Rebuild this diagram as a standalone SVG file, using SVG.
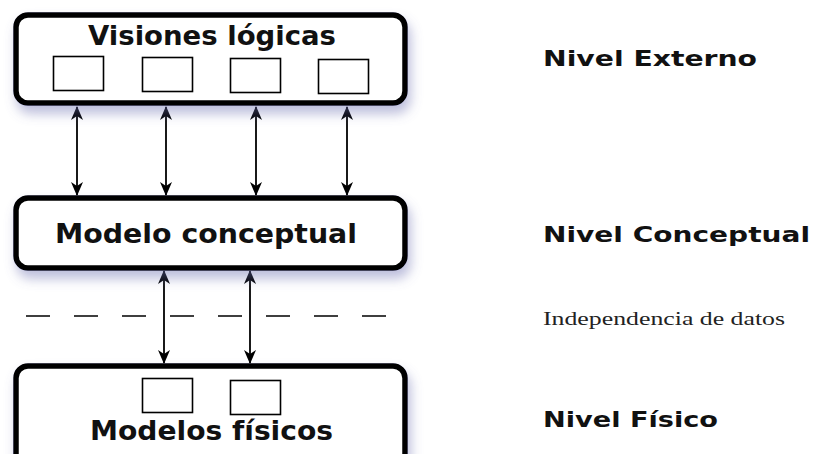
<svg xmlns="http://www.w3.org/2000/svg" width="813" height="454" viewBox="0 0 813 454">
<defs>
<style>
.box{fill:#fff;stroke:#000;stroke-width:5.5}
.inner{fill:#fff;stroke:#000;stroke-width:1.6}
.title{font-family:"DejaVu Sans","Open Sans",sans-serif;font-weight:bold;fill:#111}
.lvl{font-family:"DejaVu Sans","Open Sans",sans-serif;font-weight:bold;font-size:22px;fill:#111}
.ser{font-family:"Liberation Serif","DejaVu Serif",serif;font-size:19px;fill:#222}
.arr{stroke:#000;stroke-width:1.8;fill:none;marker-start:url(#ah);marker-end:url(#ah)}
</style>
<marker id="ah" viewBox="0 0 14 12" refX="13" refY="6" markerWidth="14" markerHeight="12" markerUnits="userSpaceOnUse" orient="auto-start-reverse">
<path d="M0,0 L14,6 L0,12 L4,6 Z" fill="#000"/>
</marker>
<filter id="sh" x="-10%" y="-20%" width="125%" height="160%">
<feDropShadow dx="3" dy="8" stdDeviation="6" flood-color="#6b6fb0" flood-opacity="0.45"/>
</filter>
</defs>
<g id="connectors">
<line class="arr" x1="77" y1="107" x2="77" y2="195"/>
<line class="arr" x1="166" y1="107" x2="166" y2="195"/>
<line class="arr" x1="256" y1="107" x2="256" y2="195"/>
<line class="arr" x1="347" y1="107" x2="347" y2="195"/>
<line class="arr" x1="164" y1="271" x2="164" y2="363"/>
<line class="arr" x1="250" y1="271" x2="250" y2="363"/>
<line x1="26" y1="316" x2="388" y2="316" stroke="#000" stroke-width="1.6" stroke-dasharray="24 24"/>
</g>
<g id="visiones">
<rect class="box" x="16" y="15" width="389" height="88" rx="12" filter="url(#sh)"/>
<text class="title" x="88" y="45" font-size="26" textLength="248" lengthAdjust="spacingAndGlyphs">Visiones lógicas</text>
<rect class="inner" x="53.5" y="56.5" width="50" height="34"/>
<rect class="inner" x="142.5" y="57.5" width="50" height="34"/>
<rect class="inner" x="230.5" y="58.5" width="50" height="34"/>
<rect class="inner" x="318.5" y="59.5" width="50" height="34"/>
</g>
<g id="conceptual">
<rect class="box" x="16" y="198" width="389" height="70" rx="12" filter="url(#sh)"/>
<text class="title" x="55" y="243" font-size="26" textLength="302" lengthAdjust="spacingAndGlyphs">Modelo conceptual</text>
</g>
<g id="fisicos">
<rect class="box" x="16" y="366" width="389" height="110" rx="12" filter="url(#sh)"/>
<rect class="inner" x="142.5" y="378.5" width="50" height="34"/>
<rect class="inner" x="230.5" y="380.5" width="50" height="34"/>
<text class="title" x="90" y="440" font-size="26" textLength="243" lengthAdjust="spacingAndGlyphs">Modelos físicos</text>
</g>
<g id="labels">
<text class="lvl" x="543" y="66" textLength="214" lengthAdjust="spacingAndGlyphs">Nivel Externo</text>
<text class="lvl" x="543" y="242" textLength="267" lengthAdjust="spacingAndGlyphs">Nivel Conceptual</text>
<text class="ser" x="543" y="325" textLength="242" lengthAdjust="spacingAndGlyphs">Independencia de datos</text>
<text class="lvl" x="543" y="427" textLength="175" lengthAdjust="spacingAndGlyphs">Nivel Físico</text>
</g>
</svg>
